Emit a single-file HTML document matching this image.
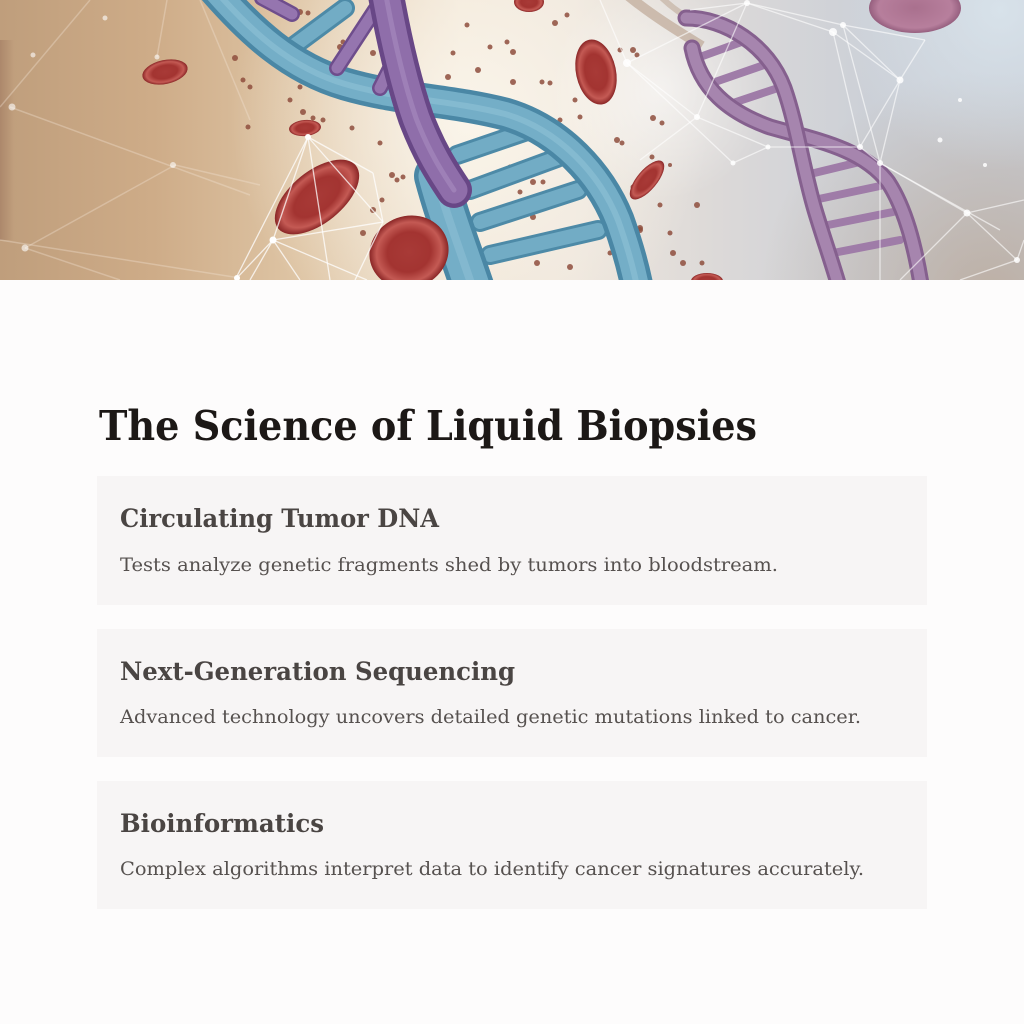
<!DOCTYPE html>
<html>
<head>
<meta charset="utf-8">
<style>
html,body{margin:0;padding:0;background:#fdfcfc;width:1024px;height:1024px;overflow:hidden;}
svg{display:block}
.t{font-family:"DejaVu Serif","Liberation Serif",serif;}
</style>
</head>
<body>
<svg width="1024" height="1024" viewBox="0 0 1024 1024" xmlns="http://www.w3.org/2000/svg">
<defs>
  <linearGradient id="bg" x1="0" x2="1" y1="0" y2="0">
    <stop offset="0" stop-color="#bf9e7c"/>
    <stop offset="0.15" stop-color="#ceac88"/>
    <stop offset="0.3" stop-color="#dfc6a6"/>
    <stop offset="0.45" stop-color="#f1e6d6"/>
    <stop offset="0.56" stop-color="#eee6dc"/>
    <stop offset="0.7" stop-color="#dcd9d8"/>
    <stop offset="0.85" stop-color="#ccd0d7"/>
    <stop offset="1" stop-color="#c8cdd6"/>
  </linearGradient>
  <radialGradient id="glow" cx="470" cy="120" r="240" gradientUnits="userSpaceOnUse">
    <stop offset="0" stop-color="#fbf6ec" stop-opacity="0.9"/>
    <stop offset="1" stop-color="#fbf6ec" stop-opacity="0"/>
  </radialGradient>
  <radialGradient id="glow2" cx="660" cy="90" r="110" gradientUnits="userSpaceOnUse">
    <stop offset="0" stop-color="#ffffff" stop-opacity="0.55"/>
    <stop offset="1" stop-color="#ffffff" stop-opacity="0"/>
  </radialGradient>
  <radialGradient id="br" cx="990" cy="300" r="230" gradientUnits="userSpaceOnUse">
    <stop offset="0" stop-color="#b9a797" stop-opacity="0.8"/>
    <stop offset="1" stop-color="#b9a797" stop-opacity="0"/>
  </radialGradient>
  <radialGradient id="tr" cx="1000" cy="10" r="160" gradientUnits="userSpaceOnUse">
    <stop offset="0" stop-color="#d9e4ec" stop-opacity="0.9"/>
    <stop offset="1" stop-color="#d9e4ec" stop-opacity="0"/>
  </radialGradient>
  <radialGradient id="rbc" cx="0.5" cy="0.5" r="0.5">
    <stop offset="0" stop-color="#a83a37"/>
    <stop offset="0.55" stop-color="#a33431"/>
    <stop offset="0.82" stop-color="#c45a54"/>
    <stop offset="1" stop-color="#8a2626"/>
  </radialGradient>
  <radialGradient id="pbc" cx="0.5" cy="0.5" r="0.5">
    <stop offset="0" stop-color="#a56585"/>
    <stop offset="0.8" stop-color="#b47595"/>
    <stop offset="1" stop-color="#8f5274"/>
  </radialGradient>
  <linearGradient id="leftedge" x1="0" x2="1">
    <stop offset="0" stop-color="#a47e64" stop-opacity="0.7"/>
    <stop offset="1" stop-color="#a47e64" stop-opacity="0"/>
  </linearGradient>
  <clipPath id="ban"><rect x="0" y="0" width="1024" height="280"/></clipPath>
</defs>

<g clip-path="url(#ban)">
  <rect x="0" y="0" width="1024" height="280" fill="url(#bg)"/>
  <rect x="0" y="0" width="1024" height="280" fill="url(#glow)"/>
  <rect x="0" y="0" width="1024" height="280" fill="url(#br)"/>
  <rect x="0" y="0" width="1024" height="280" fill="url(#tr)"/>
  <rect x="0" y="40" width="14" height="200" fill="url(#leftedge)"/>
  <rect x="0" y="0" width="1024" height="280" fill="url(#glow2)"/>

  <g stroke="#f3e6d6" stroke-opacity="0.35" stroke-width="1.5" fill="none">
    <line x1="0" y1="107" x2="90" y2="0"/>
    <line x1="10" y1="107" x2="250" y2="195"/>
    <line x1="25" y1="248" x2="175" y2="165"/>
    <line x1="175" y1="165" x2="260" y2="185"/>
    <line x1="0" y1="240" x2="240" y2="278"/>
    <line x1="157" y1="57" x2="167" y2="0"/>
    <line x1="200" y1="0" x2="250" y2="120"/>
    <line x1="25" y1="248" x2="120" y2="280"/>
  </g>
  <g fill="#fff" fill-opacity="0.6">
    <circle cx="12" cy="107" r="3.5"/>
    <circle cx="173" cy="165" r="3"/>
    <circle cx="25" cy="248" r="3.5"/>
    <circle cx="33" cy="55" r="2.5"/>
    <circle cx="105" cy="18" r="2.5"/>
    <circle cx="157" cy="57" r="2.5"/>
  </g>

  <path d="M626,-6 C650,14 676,30 702,46" stroke="#b79f8b" stroke-opacity="0.6" stroke-width="10" fill="none"/>
  <path d="M660,-4 C672,8 684,16 696,22" stroke="#b79f8b" stroke-opacity="0.5" stroke-width="6" fill="none"/>

  <g stroke-linecap="round" fill="none">
    <g stroke="#9f7ca8" stroke-width="8">
      <line x1="700" y1="57" x2="747" y2="40"/>
      <line x1="715" y1="82" x2="767" y2="64"/>
      <line x1="733" y1="103" x2="778" y2="88"/>
      <line x1="806" y1="175" x2="868" y2="160"/>
      <line x1="814" y1="200" x2="880" y2="186"/>
      <line x1="823" y1="226" x2="893" y2="212"/>
      <line x1="833" y1="253" x2="900" y2="240"/>
    </g>
    <path d="M692,48 C700,88 728,112 770,127 C815,140 862,148 888,182 C905,208 915,245 922,290" stroke="#85608e" stroke-width="17"/>
    <path d="M692,48 C700,88 728,112 770,127 C815,140 862,148 888,182 C905,208 915,245 922,290" stroke="#a685ae" stroke-width="11"/>
    <path d="M686,18 C725,18 768,45 784,88 C797,125 803,170 815,210 C824,240 832,262 840,290" stroke="#85608e" stroke-width="17"/>
    <path d="M686,18 C725,18 768,45 784,88 C797,125 803,170 815,210 C824,240 832,262 840,290" stroke="#a685ae" stroke-width="11"/>
  </g>

  <g fill="#8e4d3d" fill-opacity="0.85">
    <circle cx="235" cy="58" r="3"/><circle cx="243" cy="80" r="2.5"/><circle cx="250" cy="87" r="2.5"/>
    <circle cx="248" cy="127" r="2.5"/><circle cx="290" cy="100" r="2.5"/><circle cx="300" cy="87" r="2.5"/>
    <circle cx="303" cy="112" r="3"/><circle cx="313" cy="118" r="2.5"/><circle cx="323" cy="120" r="2.5"/>
    <circle cx="340" cy="47" r="3"/><circle cx="343" cy="42" r="2.5"/><circle cx="300" cy="12" r="3"/>
    <circle cx="308" cy="13" r="2.5"/><circle cx="352" cy="128" r="2.5"/><circle cx="373" cy="53" r="3"/>
    <circle cx="380" cy="143" r="2.5"/><circle cx="373" cy="210" r="3"/><circle cx="382" cy="200" r="2.5"/>
    <circle cx="392" cy="175" r="3"/><circle cx="397" cy="180" r="2.5"/><circle cx="403" cy="177" r="2.5"/>
    <circle cx="363" cy="233" r="3"/><circle cx="448" cy="77" r="3"/><circle cx="453" cy="53" r="2.5"/>
    <circle cx="478" cy="70" r="3"/><circle cx="490" cy="47" r="2.5"/><circle cx="507" cy="42" r="2.5"/>
    <circle cx="513" cy="52" r="3"/><circle cx="513" cy="82" r="3"/><circle cx="542" cy="82" r="2.5"/>
    <circle cx="550" cy="83" r="2.5"/><circle cx="555" cy="23" r="3"/><circle cx="567" cy="15" r="2.5"/>
    <circle cx="575" cy="100" r="2.5"/><circle cx="580" cy="117" r="2.5"/><circle cx="560" cy="120" r="2.5"/>
    <circle cx="567" cy="140" r="2.5"/><circle cx="580" cy="143" r="2.5"/><circle cx="617" cy="140" r="3"/>
    <circle cx="633" cy="50" r="3"/><circle cx="637" cy="55" r="2.5"/><circle cx="620" cy="50" r="2.5"/>
    <circle cx="533" cy="182" r="3"/><circle cx="543" cy="182" r="2.5"/><circle cx="520" cy="192" r="2.5"/>
    <circle cx="533" cy="217" r="3"/><circle cx="540" cy="240" r="3"/><circle cx="520" cy="253" r="2.5"/>
    <circle cx="537" cy="263" r="3"/><circle cx="497" cy="220" r="2.5"/><circle cx="510" cy="167" r="2.5"/>
    <circle cx="497" cy="177" r="2.5"/><circle cx="570" cy="267" r="3"/><circle cx="633" cy="187" r="2.5"/>
    <circle cx="640" cy="230" r="3"/><circle cx="610" cy="253" r="2.5"/><circle cx="653" cy="118" r="3"/>
    <circle cx="662" cy="123" r="2.5"/><circle cx="622" cy="143" r="2.5"/><circle cx="652" cy="157" r="2.5"/>
    <circle cx="670" cy="165" r="2"/><circle cx="697" cy="205" r="3"/><circle cx="660" cy="205" r="2.5"/>
    <circle cx="640" cy="228" r="3"/><circle cx="670" cy="233" r="2.5"/><circle cx="673" cy="253" r="3"/>
    <circle cx="683" cy="263" r="3"/><circle cx="702" cy="263" r="2.5"/><circle cx="467" cy="25" r="2.5"/>
    <circle cx="430" cy="240" r="2.5"/><circle cx="425" cy="200" r="2"/>
  </g>

  <ellipse cx="165" cy="72" rx="23" ry="12" transform="rotate(-12 165 72)" fill="url(#rbc)"/>
  <ellipse cx="305" cy="128" rx="16" ry="8" transform="rotate(-5 305 128)" fill="url(#rbc)"/>
  <ellipse cx="529" cy="2" rx="15" ry="10" fill="url(#rbc)"/>
  <ellipse cx="596" cy="72" rx="20" ry="33" transform="rotate(-12 596 72)" fill="url(#rbc)"/>
  <ellipse cx="647" cy="180" rx="24" ry="10" transform="rotate(-50 647 180)" fill="url(#rbc)"/>
  <ellipse cx="707" cy="281" rx="16" ry="8" fill="url(#rbc)"/>
  <ellipse cx="915" cy="8" rx="46" ry="25" fill="url(#pbc)" fill-opacity="0.9"/>

  <g stroke-linecap="round" fill="none">
    <g stroke="#4d8aa7" stroke-width="20">
      <line x1="457" y1="155" x2="530" y2="130"/>
      <line x1="470" y1="190" x2="557" y2="158"/>
      <line x1="480" y1="222" x2="578" y2="190"/>
      <line x1="490" y1="255" x2="598" y2="230"/>
      <line x1="295" y1="45" x2="345" y2="8"/>
    </g>
    <g stroke="#72acc5" stroke-width="14">
      <line x1="457" y1="155" x2="530" y2="130"/>
      <line x1="470" y1="190" x2="557" y2="158"/>
      <line x1="480" y1="222" x2="578" y2="190"/>
      <line x1="490" y1="255" x2="598" y2="230"/>
      <line x1="295" y1="45" x2="345" y2="8"/>
    </g>
    <path d="M215,-10 C250,30 290,68 345,84 C400,100 450,100 505,114 C560,130 600,175 618,220 C628,248 634,270 638,292" stroke="#4a87a5" stroke-width="33"/>
    <path d="M215,-10 C250,30 290,68 345,84 C400,100 450,100 505,114 C560,130 600,175 618,220 C628,248 634,270 638,292" stroke="#74aec7" stroke-width="24"/>
    <path d="M215,-10 C250,30 290,68 345,84 C400,100 450,100 505,114 C560,130 600,175 618,220 C628,248 634,270 638,292" stroke="#8fc1d6" stroke-width="6" stroke-opacity="0.6"/>
    <path d="M436,176 C446,214 460,250 474,292" stroke="#4a87a5" stroke-width="44"/>
    <path d="M436,176 C446,214 460,250 474,292" stroke="#74aec7" stroke-width="35"/>
    <path d="M436,176 C446,214 460,250 474,292" stroke="#8fc1d6" stroke-width="8" stroke-opacity="0.55"/>
    <g stroke="#6e4d8c" stroke-width="16">
      <line x1="337" y1="68" x2="375" y2="10"/>
      <line x1="380" y1="88" x2="402" y2="45"/>
      <line x1="262" y1="-2" x2="292" y2="14"/>
    </g>
    <g stroke="#9575af" stroke-width="11">
      <line x1="337" y1="68" x2="375" y2="10"/>
      <line x1="380" y1="88" x2="402" y2="45"/>
      <line x1="262" y1="-2" x2="292" y2="14"/>
    </g>
    <path d="M385,-10 C393,35 403,80 416,118 C429,152 442,172 454,190" stroke="#684786" stroke-width="36"/>
    <path d="M385,-10 C393,35 403,80 416,118 C429,152 442,172 454,190" stroke="#8f6eaa" stroke-width="27"/>
    <path d="M385,-10 C393,35 403,80 416,118 C429,152 442,172 454,190" stroke="#a98cc0" stroke-width="5" stroke-opacity="0.6"/>
  </g>

  <ellipse cx="317" cy="197" rx="50" ry="26" transform="rotate(-39 317 197)" fill="url(#rbc)"/>
  <ellipse cx="409" cy="252" rx="40" ry="36" transform="rotate(-20 409 252)" fill="url(#rbc)"/>

  <g stroke="#ffffff" stroke-opacity="0.75" stroke-width="1.3" fill="none">
    <line x1="308" y1="137" x2="235" y2="280"/>
    <line x1="308" y1="137" x2="273" y2="240"/>
    <line x1="308" y1="137" x2="383" y2="222"/>
    <line x1="308" y1="137" x2="373" y2="173"/>
    <line x1="308" y1="137" x2="330" y2="280"/>
    <line x1="273" y1="240" x2="235" y2="280"/>
    <line x1="273" y1="240" x2="383" y2="222"/>
    <line x1="273" y1="240" x2="367" y2="280"/>
    <line x1="273" y1="240" x2="250" y2="280"/>
    <line x1="273" y1="240" x2="300" y2="280"/>
    <line x1="373" y1="173" x2="383" y2="222"/>
    <line x1="383" y1="222" x2="355" y2="280"/>
  </g>
  <g fill="#fff">
    <circle cx="308" cy="137" r="3"/>
    <circle cx="273" cy="240" r="3.5"/>
    <circle cx="237" cy="278" r="3"/>
  </g>

  <g stroke="#ffffff" stroke-opacity="0.6" stroke-width="1.3" fill="none">
    <line x1="747" y1="3" x2="833" y2="32"/>
    <line x1="747" y1="3" x2="843" y2="25"/>
    <line x1="747" y1="3" x2="627" y2="63"/>
    <line x1="747" y1="3" x2="697" y2="117"/>
    <line x1="690" y1="10" x2="747" y2="3"/>
    <line x1="833" y1="32" x2="900" y2="80"/>
    <line x1="843" y1="25" x2="900" y2="80"/>
    <line x1="833" y1="32" x2="860" y2="147"/>
    <line x1="843" y1="25" x2="880" y2="163"/>
    <line x1="900" y1="80" x2="860" y2="147"/>
    <line x1="900" y1="80" x2="880" y2="163"/>
    <line x1="860" y1="147" x2="880" y2="163"/>
    <line x1="880" y1="163" x2="967" y2="213"/>
    <line x1="967" y1="213" x2="1017" y2="260"/>
    <line x1="860" y1="147" x2="768" y2="147"/>
    <line x1="768" y1="147" x2="733" y2="163"/>
    <line x1="733" y1="163" x2="627" y2="63"/>
    <line x1="627" y1="63" x2="697" y2="117"/>
    <line x1="697" y1="117" x2="768" y2="147"/>
    <line x1="900" y1="80" x2="925" y2="40"/>
    <line x1="925" y1="40" x2="843" y2="25"/>
    <line x1="967" y1="213" x2="1024" y2="200"/>
    <line x1="1017" y1="260" x2="960" y2="280"/>
    <line x1="967" y1="213" x2="900" y2="280"/>
    <line x1="880" y1="163" x2="1000" y2="230"/>
    <line x1="1017" y1="260" x2="1024" y2="240"/>
    <line x1="880" y1="163" x2="880" y2="280"/>
    <line x1="627" y1="63" x2="600" y2="0"/>
    <line x1="697" y1="117" x2="640" y2="160"/>
  </g>
  <g fill="#fff" fill-opacity="0.85">
    <circle cx="747" cy="3" r="3"/><circle cx="833" cy="32" r="4"/><circle cx="843" cy="25" r="3"/>
    <circle cx="900" cy="80" r="3.5"/><circle cx="860" cy="147" r="3"/><circle cx="880" cy="163" r="3"/>
    <circle cx="967" cy="213" r="3.5"/><circle cx="1017" cy="260" r="3"/><circle cx="768" cy="147" r="2.5"/>
    <circle cx="733" cy="163" r="2.5"/><circle cx="627" cy="63" r="4"/><circle cx="697" cy="117" r="3"/>
    <circle cx="940" cy="140" r="2.5"/><circle cx="960" cy="100" r="2"/><circle cx="985" cy="165" r="2"/>
  </g>
</g>

<rect x="0" y="280" width="1024" height="744" fill="#fdfcfc"/>
<text class="t" x="99" y="440" font-size="41" font-weight="700" fill="#1c1816" textLength="658" lengthAdjust="spacingAndGlyphs">The Science of Liquid Biopsies</text>

<rect x="97" y="476" width="830" height="129" fill="#f7f5f5"/>
<text class="t" x="120" y="527" font-size="25" font-weight="700" fill="#4a4543" textLength="319" lengthAdjust="spacingAndGlyphs">Circulating Tumor DNA</text>
<text class="t" x="120" y="571" font-size="19" fill="#56514f" textLength="658" lengthAdjust="spacingAndGlyphs">Tests analyze genetic fragments shed by tumors into bloodstream.</text>

<rect x="97" y="629" width="830" height="128" fill="#f7f5f5"/>
<text class="t" x="120" y="680" font-size="25" font-weight="700" fill="#4a4543" textLength="395" lengthAdjust="spacingAndGlyphs">Next-Generation Sequencing</text>
<text class="t" x="120" y="723" font-size="19" fill="#56514f" textLength="741" lengthAdjust="spacingAndGlyphs">Advanced technology uncovers detailed genetic mutations linked to cancer.</text>

<rect x="97" y="781" width="830" height="128" fill="#f7f5f5"/>
<text class="t" x="120" y="832" font-size="25" font-weight="700" fill="#4a4543" textLength="204" lengthAdjust="spacingAndGlyphs">Bioinformatics</text>
<text class="t" x="120" y="875" font-size="19" fill="#56514f" textLength="744" lengthAdjust="spacingAndGlyphs">Complex algorithms interpret data to identify cancer signatures accurately.</text>
</svg>
</body>
</html>
